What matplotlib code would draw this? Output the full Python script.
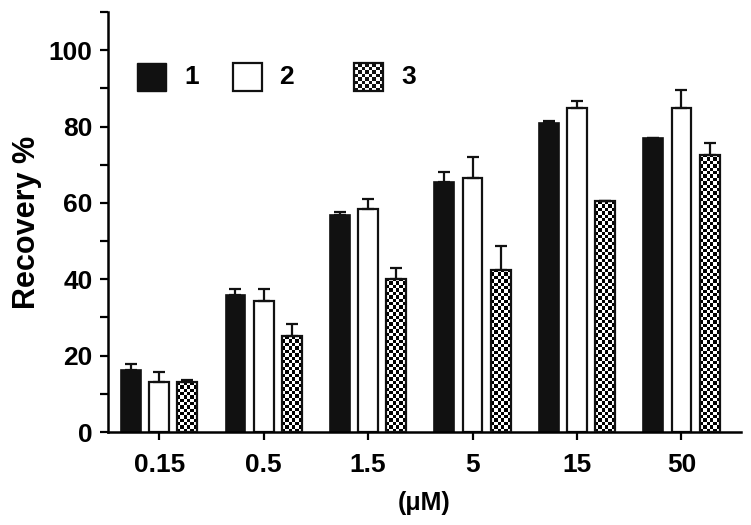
import numpy as np
import matplotlib
matplotlib.use("Agg")
import matplotlib.pyplot as plt
from matplotlib.patches import Rectangle
from matplotlib.offsetbox import (AnchoredOffsetbox, HPacker, DrawingArea,
                                  TextArea)

plt.rcParams.update({
    "font.family": ["Liberation Sans", "DejaVu Sans"],
    "font.weight": "bold",
    "axes.labelweight": "bold",
    "font.size": 20,
})

concentrations = ["0.15", "0.5", "1.5", "5", "15", "50"]
series_names = ["1", "2", "3"]
values_1 = [16.2, 36.0, 56.9, 65.5, 80.8, 76.9]
errors_1 = [1.7, 1.5, 0.6, 2.5, 0.7, 0.0]
values_2 = [13.1, 34.2, 58.3, 66.5, 84.8, 84.8]
errors_2 = [2.6, 3.2, 2.7, 5.4, 1.9, 4.8]
values_3 = [13.0, 25.1, 40.1, 42.5, 60.5, 72.6]
errors_3 = [0.5, 3.3, 2.9, 6.1, 0.0, 3.0]

ink = "#111111"
width = 0.19
offset = 0.27

fig = plt.figure(figsize=(7.51, 5.25), dpi=100)
ax = fig.add_axes([108 / 751, 93 / 525, 633 / 751, 420 / 525])

x = np.arange(len(concentrations))
err_kw = dict(ecolor=ink, elinewidth=1.6, capsize=4.5, capthick=1.6)


def up_only(err):
    return [np.zeros(len(err)), err]


ax.bar(x - offset, values_1, width, color=ink, edgecolor=ink, linewidth=1.2,
       yerr=up_only(errors_1), error_kw=err_kw, zorder=2)
ax.bar(x, values_2, width, color="white", edgecolor=ink, linewidth=1.6,
       yerr=up_only(errors_2), error_kw=err_kw, zorder=2)
bars3 = ax.bar(x + offset, values_3, width, color="none", edgecolor=ink,
               linewidth=1.6, yerr=up_only(errors_3), error_kw=err_kw,
               zorder=3)

# checkerboard fill for series 3
px_per_unit = 420 / 110
for rect in bars3:
    h = rect.get_height()
    nrows = max(1, int(round(h * px_per_unit / 3.4)))
    board = np.add.outer(np.arange(nrows), np.arange(6)) % 2
    im = ax.imshow(board, cmap="gray", vmin=0, vmax=1, origin="lower",
                   interpolation="nearest", aspect="auto",
                   extent=[rect.get_x(), rect.get_x() + rect.get_width(),
                           0, h], zorder=1)
    im.set_clip_path(rect)

ax.set_xlim(-0.49, 5.57)
ax.set_ylim(0, 110)
ax.set_xticks(x)
ax.set_xticklabels(concentrations)
ax.set_yticks(np.arange(0, 101, 20))
ax.set_yticks(np.arange(10, 111, 20), minor=True)
ax.set_ylabel("Recovery %", fontsize=22, labelpad=5)
ax.set_xlabel("(\u03bcM)", fontsize=18, labelpad=10)
ax.tick_params(axis="both", which="major", length=6, width=1.6, labelsize=19)
ax.tick_params(axis="y", which="minor", length=6, width=1.6)
ax.tick_params(axis="y", pad=5)
ax.tick_params(axis="x", pad=9)
ax.spines["top"].set_visible(False)
ax.spines["right"].set_visible(False)
for s in ["left", "bottom"]:
    ax.spines[s].set_linewidth(1.8)

# legend built by hand
pt = 72 / 100


def box(kind):
    da = DrawingArea(29 * pt, 28 * pt, 0, 0)
    if kind == "solid":
        da.add_artist(Rectangle((0, 0), 29 * pt, 28 * pt, fc=ink, ec=ink))
    elif kind == "open":
        da.add_artist(Rectangle((0, 0), 29 * pt, 28 * pt, fc="white",
                                ec=ink, lw=1.6))
    else:
        n = 8
        s = 29 * pt / n
        sh = 28 * pt / n
        da.add_artist(Rectangle((0, 0), 29 * pt, 28 * pt, fc="white",
                                ec="none"))
        for i in range(n):
            for j in range(n):
                if (i + j) % 2 == 0:
                    da.add_artist(Rectangle((i * s, j * sh), s, sh, fc=ink,
                                            ec="none"))
        da.add_artist(Rectangle((0, 0), 29 * pt, 28 * pt, fc="none",
                                ec=ink, lw=1.6))
    return da


def gap(px):
    return DrawingArea(px * pt, 1, 0, 0)


def label(t):
    return TextArea(t, textprops=dict(fontsize=19, fontweight="bold"))


items = [box("solid"), gap(18), label(series_names[0]), gap(34),
         box("open"), gap(18), label(series_names[1]), gap(60),
         box("checker"), gap(18), label(series_names[2])]
pack = HPacker(children=items, align="center", pad=0, sep=0)
anchored = AnchoredOffsetbox(loc="center left", child=pack, pad=0,
                             borderpad=0, frameon=False,
                             bbox_to_anchor=((137 - 108) / 633,
                                             1 - (77 - 12) / 420),
                             bbox_transform=ax.transAxes)
ax.add_artist(anchored)

fig.savefig("out.png", dpi=100)
